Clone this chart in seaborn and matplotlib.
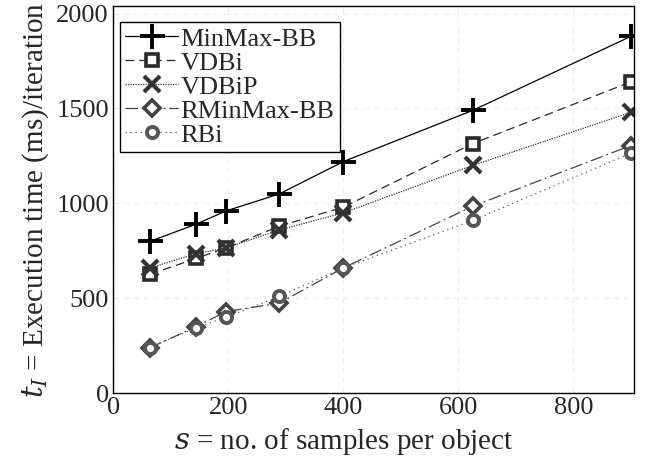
import pandas as pd
import seaborn as sns
import matplotlib.pyplot as plt

# Samples per object (x axis)
samples = [64, 144, 196, 289, 400, 625, 900]

# Execution time (ms) per iteration for each method
minmax_bb = [800, 890, 960, 1050, 1220, 1490, 1880]
vdbi = [626, 710, 765, 880, 980, 1315, 1640]
vdbip = [660, 735, 765, 860, 950, 1200, 1480]
rminmax_bb = [240, 350, 430, 475, 660, 985, 1305]
rbi = [240, 345, 400, 510, 660, 910, 1265]

series = {
    "MinMax-BB": minmax_bb,
    "VDBi": vdbi,
    "VDBiP": vdbip,
    "RMinMax-BB": rminmax_bb,
    "RBi": rbi,
}

# Look of each series
styles = {
    "MinMax-BB": dict(color="black", marker="+", markersize=18, mew=2.8, ls="-"),
    "VDBi": dict(color="#2a2a2a", marker="s", markersize=8, mew=2.6, ls=(0, (7, 4))),
    "VDBiP": dict(color="#333333", marker="x", markersize=12, mew=3.0, ls=(0, (1, 1))),
    "RMinMax-BB": dict(color="#444444", marker="D", markersize=8, mew=2.6, ls=(0, (10, 3, 1.5, 3))),
    "RBi": dict(color="#555555", marker="o", markersize=8, mew=2.8, ls=(0, (1, 3))),
}

sns.set_style("white")
plt.rcParams["font.family"] = ["Liberation Serif", "DejaVu Serif"]
plt.rcParams["mathtext.fontset"] = "dejavuserif"

fig = plt.figure(figsize=(6.5, 4.61), dpi=100)
ax = fig.add_axes([0.174, 0.147, 0.801, 0.84])

for name, values in series.items():
    df = pd.DataFrame({"s": samples, "t": values})
    st = styles[name]
    sns.lineplot(
        data=df,
        x="s",
        y="t",
        ax=ax,
        label=name,
        color=st["color"],
        marker=st["marker"],
        markersize=st["markersize"],
        markeredgewidth=st["mew"],
        markerfacecolor="white",
        markeredgecolor=st["color"],
        linestyle=st["ls"],
        linewidth=0.9,
    )

ax.set_xlim(0, 905)
ax.set_ylim(0, 2040)
ax.set_xticks([0, 200, 400, 600, 800])
ax.set_yticks([0, 500, 1000, 1500, 2000])
ax.tick_params(labelsize=19, length=0, pad=3)
ax.grid(True, color="#ececec", linestyle=(0, (5, 4)), linewidth=0.8)

for sp in ax.spines.values():
    sp.set_color("black")
    sp.set_linewidth(1.0)

ax.set_xlabel("$s$ = no. of samples per object", size=21, labelpad=1)
ax.xaxis.set_label_coords(0.443, -0.085)
ax.set_ylabel("$t_I$ = Execution time (ms)/iteration", size=21, labelpad=4)

ax.legend(
    loc="upper left",
    bbox_to_anchor=(0.013, 0.959),
    borderaxespad=0,
    fontsize=19,
    fancybox=False,
    edgecolor="black",
    framealpha=1,
    handlelength=2.0,
    handletextpad=0.1,
    labelspacing=0.02,
    borderpad=0.2,
)

plt.savefig("out.png", dpi=100)
